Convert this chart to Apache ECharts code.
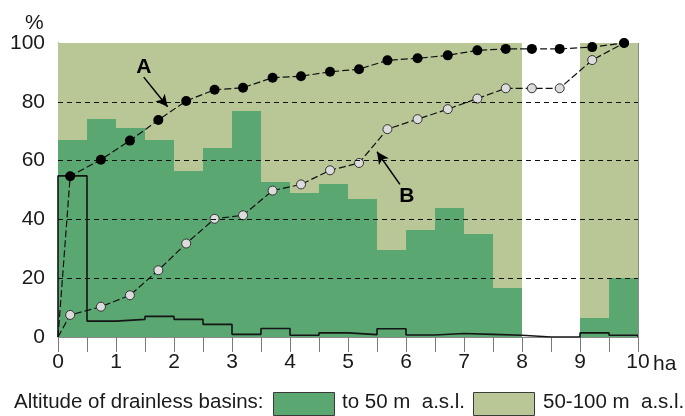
<!DOCTYPE html>
<html><head><meta charset="utf-8">
<script src="https://cdn.jsdelivr.net/npm/echarts@6.0.0/dist/echarts.min.js"></script>
<style>html,body{margin:0;padding:0;background:#fff}#c{width:685px;height:416px}</style>
</head><body><div id="c"></div>
<script>
// ---- data ----
const binStart = [0,0.5,1,1.5,2,2.5,3,3.5,4,4.5,5,5.5,6,6.5,7,7.5,8,8.5,9,9.5];
const binWidth = 0.5;
// share of basins "to 50 m a.s.l." (%)
const lowShare  = [66.9,74.3,71.1,67.1,56.5,64.3,77.0,52.7,49.0,52.1,47.1,29.5,36.3,43.9,35.2,16.5,null,null,6.3,19.9];
// share of basins "50-100 m a.s.l." (%)
const highShare = [33.1,25.7,28.9,32.9,43.5,35.7,23.0,47.3,51.0,47.9,52.9,70.5,63.7,56.1,64.8,83.5,null,null,93.7,80.1];
// step histogram (black outline)
const basinShare = [54.8,5.4,6.0,7.0,6.0,4.3,0.9,2.9,0.6,1.4,0.8,2.8,0.7,1.2,0.9,0.6,0,0,1.4,0.6];
// cumulative curves
const pointX = [0.21,0.74,1.24,1.73,2.21,2.70,3.19,3.70,4.19,4.69,5.19,5.68,6.20,6.72,7.23,7.72,8.17,8.65,9.21,9.76];
const curveA = [54.7,60.3,66.8,73.8,80.3,84.1,84.8,88.2,88.7,90.2,91.1,94.1,94.8,95.8,97.5,98.0,98.0,98.0,98.6,100];
const curveB = [7.5,10.3,14.2,22.7,31.8,40.2,41.4,49.8,51.9,56.7,59.2,70.7,74.1,77.5,81.1,84.6,84.6,84.6,94.2,100];
const xTickLabels = [0,1,2,3,4,5,6,7,8,9,10];
const gridLevels = [20,40,60,80];
const legendTitle = 'Altitude of drainless basins:';
const legendNames = ['to 50 m  a.s.l.', '50-100 m  a.s.l.'];

// ---- styling ----
const FONT = '"Liberation Sans", Arial, Helvetica, sans-serif';
const DARK = '#5ba772';
const LIGHT = '#b9c796';
const TXT = '#1a1a1a';

const chart = echarts.init(document.getElementById('c'), null, {renderer: 'canvas'});

function rectRender(params, api) {
  const x0 = api.value(0), v0 = api.value(1), v1 = api.value(2);
  const p0 = api.coord([x0, v0]);
  const p1 = api.coord([x0 + binWidth, v1]);
  const xa = Math.round(p0[0]), xb = Math.round(p1[0]);
  const ya = Math.round(p1[1]), yb = Math.round(p0[1]);
  return {type: 'rect', shape: {x: xa, y: ya, width: xb - xa, height: yb - ya},
          style: {fill: api.visual('color')}};
}

const lowData = [], highData = [];
binStart.forEach((x, i) => {
  if (lowShare[i] != null) {
    lowData.push([x, 0, lowShare[i]]);
    highData.push([x, lowShare[i], lowShare[i] + highShare[i]]);
  }
});

// histogram outline: horizontal run across each bin, verticals between bins
const stepData = [[0, 0]];
binStart.forEach((x, i) => {
  stepData.push([x, basinShare[i]]);
  stepData.push([x + binWidth, basinShare[i]]);
});
stepData.push([binStart[binStart.length - 1] + binWidth, 0]);

const lineA = [{value: [0, 0], symbol: 'none'}].concat(pointX.map((x, i) => [x, curveA[i]]));
const lineB = [{value: [0, 0], symbol: 'none'}].concat(pointX.map((x, i) => [x, curveB[i]]));

const option = {
  animation: false,
  backgroundColor: '#ffffff',
  grid: {left: 58, right: 47, top: 43, bottom: 79, containLabel: false},
  xAxis: {
    type: 'value', min: 0, max: 10, interval: 0.5,
    axisLine: {show: true, lineStyle: {color: '#8a8a8a', width: 1}},
    axisTick: {show: true, length: 15, lineStyle: {color: '#7a7a7a', width: 1}},
    axisLabel: {margin: 15, fontSize: 21, color: TXT, fontFamily: FONT,
      formatter: v => xTickLabels.includes(v) ? String(v) : ''},
    splitLine: {show: false}
  },
  yAxis: {
    type: 'value', min: 0, max: 100, interval: 20,
    axisLine: {show: true, lineStyle: {color: '#555', width: 1}},
    axisTick: {show: false},
    axisLabel: {margin: 13, fontSize: 21, color: TXT, fontFamily: FONT},
    splitLine: {show: false}
  },
  series: [
    {type: 'custom', name: legendNames[0], renderItem: rectRender, data: lowData,
     itemStyle: {color: DARK}, encode: {x: 0, y: [1, 2]}, z: 1},
    {type: 'custom', name: legendNames[1], renderItem: rectRender, data: highData,
     itemStyle: {color: LIGHT}, encode: {x: 0, y: [1, 2]}, z: 1,
     markLine: {silent: true, symbol: 'none', label: {show: false},
       lineStyle: {type: [5, 4], color: '#111', width: 1},
       data: gridLevels.map(v => ({yAxis: v}))}},
    {type: 'line', name: 'border', data: [], z: 2,
     markLine: {silent: true, symbol: 'none', label: {show: false},
       lineStyle: {type: 'solid', color: '#8a8a8a', width: 1},
       data: [{xAxis: 10}]}},
    {type: 'line', name: 'basins', data: stepData, symbol: 'none', sampling: null,
     lineStyle: {color: '#151515', width: 1.6}, z: 3},
    {type: 'line', name: 'B', data: lineB, symbol: 'circle', symbolSize: 9,
     itemStyle: {color: '#dcdcdc', borderColor: '#333', borderWidth: 1},
     lineStyle: {color: '#111', width: 1.2, type: [7, 3]}, z: 4,
     markLine: {silent: true, symbol: ['none', 'arrow'], symbolSize: [9, 12],
       label: {show: false}, lineStyle: {type: 'solid', color: '#000', width: 1.5},
       data: [[{coord: [5.895, 51.9]}, {coord: [5.50, 63.0]}]]},
     markPoint: {silent: true, symbol: 'circle', symbolSize: 1,
       itemStyle: {color: 'transparent'},
       label: {show: true, position: 'inside', formatter: 'B', fontSize: 21,
         fontWeight: 'bold', color: '#000', fontFamily: FONT},
       data: [{coord: [6.015, 47.8]}]}},
    {type: 'line', name: 'A', data: lineA, symbol: 'circle', symbolSize: 10,
     itemStyle: {color: '#000', borderColor: '#000', borderWidth: 0},
     lineStyle: {color: '#111', width: 1.2, type: [7, 3]}, z: 5,
     markLine: {silent: true, symbol: ['none', 'arrow'], symbolSize: [9, 12],
       label: {show: false}, lineStyle: {type: 'solid', color: '#000', width: 1.5},
       data: [[{coord: [1.478, 88.4]}, {coord: [1.89, 78.3]}]]},
     markPoint: {silent: true, symbol: 'circle', symbolSize: 1,
       itemStyle: {color: 'transparent'},
       label: {show: true, position: 'inside', formatter: 'A', fontSize: 21,
         fontWeight: 'bold', color: '#000', fontFamily: FONT},
       data: [{coord: [1.478, 91.8]}]}}
  ],
  graphic: [
    {type: 'text', left: 25, top: 13, style: {text: '%', font: '21px ' + FONT, fill: TXT}},
    {type: 'text', left: 653, top: 354, style: {text: 'ha', font: '21px ' + FONT, fill: TXT}},
    {type: 'text', left: 14, top: 392, style: {text: legendTitle, font: '20.5px ' + FONT, fill: TXT}},
    {type: 'rect', shape: {x: 273.5, y: 392.5, width: 61, height: 23},
     style: {fill: DARK, stroke: '#3a3a3a', lineWidth: 1}},
    {type: 'text', left: 342, top: 392, style: {text: legendNames[0], font: '20.5px ' + FONT, fill: TXT}},
    {type: 'rect', shape: {x: 473.5, y: 392.5, width: 61, height: 23},
     style: {fill: LIGHT, stroke: '#3a3a3a', lineWidth: 1}},
    {type: 'text', left: 543, top: 392, style: {text: legendNames[1], font: '20.5px ' + FONT, fill: TXT}}
  ]
};
chart.setOption(option);
</script></body></html>
